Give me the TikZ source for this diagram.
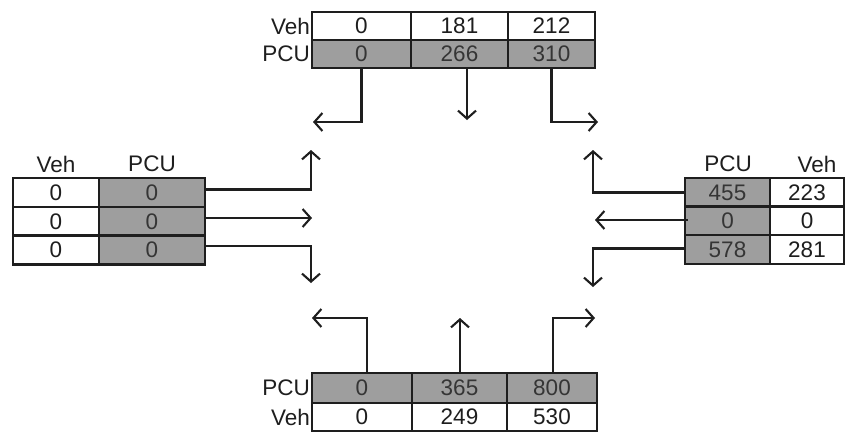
\documentclass[tikz,border=0pt]{standalone}
\usepackage{fontspec}
\setmainfont{Liberation Sans}
\usetikzlibrary{arrows.meta}
\definecolor{cellgray}{RGB}{158,158,158}
\definecolor{ink}{RGB}{30,30,30}
\begin{document}
\begin{tikzpicture}[x=1pt,y=-1pt,
  cell/.style={draw=ink,line width=2.2pt,inner sep=0pt,minimum height=28pt,font=\fontsize{22.5}{22.5}\selectfont,text=ink},
  wcell/.style={cell,fill=white},
  gcell/.style={cell,fill=cellgray,text=ink!90},
  lbl/.style={inner sep=0pt,font=\fontsize{22.5}{22.5}\selectfont,text=ink},
  arr/.style={draw=ink,line width=2.1pt,-{Straight Barb[length=8pt,width=18pt,line width=2.1pt]}}]
\useasboundingbox (0,0) rectangle (846,432);
\fill[white] (0,0) rectangle (846,432);
% ---------- top table
\node[wcell,minimum width=99pt] (tv1) at (361.5,26) {0};
\node[wcell,minimum width=97pt] (tv2) at (459.5,26) {181};
\node[wcell,minimum width=87pt] (tv3) at (551.5,26) {212};
\node[gcell,minimum width=99pt] (tp1) at (361.5,54) {0};
\node[gcell,minimum width=97pt] (tp2) at (459.5,54) {266};
\node[gcell,minimum width=87pt] (tp3) at (551.5,54) {310};
\node[lbl,anchor=east] (tlv) at (310,26) {Veh};
\node[lbl,anchor=east] (tlp) at (310,54) {PCU};
% ---------- left table
\node[lbl] (llv) at (56,164) {Veh};
\node[lbl] (llp) at (152,164) {PCU};
\node[wcell,minimum width=86pt,minimum height=29pt] (lv1) at (56,192.5) {0};
\node[wcell,minimum width=86pt,minimum height=29pt] (lv2) at (56,221.5) {0};
\node[wcell,minimum width=86pt,minimum height=29pt] (lv3) at (56,250) {0};
\node[gcell,minimum width=106pt,minimum height=29pt] (lp1) at (152,192.5) {0};
\node[gcell,minimum width=106pt,minimum height=29pt] (lp2) at (152,221.5) {0};
\node[gcell,minimum width=106pt,minimum height=29pt] (lp3) at (152,250) {0};
% ---------- right table
\node[lbl] (rlp) at (728,164) {PCU};
\node[lbl] (rlv) at (817,164) {Veh};
\node[gcell,minimum width=85pt,minimum height=29pt] (rp1) at (727.5,192.5) {455};
\node[gcell,minimum width=85pt,minimum height=29pt] (rp2) at (727.5,221) {0};
\node[gcell,minimum width=85pt,minimum height=29pt] (rp3) at (727.5,249.5) {578};
\node[wcell,minimum width=74pt,minimum height=29pt] (rv1) at (807,192.5) {223};
\node[wcell,minimum width=74pt,minimum height=29pt] (rv2) at (807,221) {0};
\node[wcell,minimum width=74pt,minimum height=29pt] (rv3) at (807,249.5) {281};
% ---------- bottom table
\node[gcell,minimum width=100pt,minimum height=30pt] (bp1) at (362,388) {0};
\node[gcell,minimum width=95pt,minimum height=30pt] (bp2) at (459.5,388) {365};
\node[gcell,minimum width=90pt,minimum height=30pt] (bp3) at (552,388) {800};
\node[wcell,minimum width=100pt] (bv1) at (362,417) {0};
\node[wcell,minimum width=95pt] (bv2) at (459.5,417) {249};
\node[wcell,minimum width=90pt] (bv3) at (552,417) {530};
\node[lbl,anchor=east] (blp) at (310,388) {PCU};
\node[lbl,anchor=east] (blv) at (310,417) {Veh};
% ---------- arrow end points
\coordinate (ta1) at (313,122);
\coordinate (ta2) at (467,120);
\coordinate (ta3) at (598,122);
\coordinate (la1) at (311,150);
\coordinate (la2) at (312,218);
\coordinate (la3) at (311,283);
\coordinate (ra1) at (593,150);
\coordinate (ra2) at (595,220);
\coordinate (ra3) at (593,287);
\coordinate (ba1) at (312,318);
\coordinate (ba2) at (460,318);
\coordinate (ba3) at (595,318);
% ---------- arrows
\draw[arr] (tp1.south) |- (ta1);
\draw[arr] (tp2.south -| ta2) -- (ta2);
\draw[arr] (tp3.south) |- (ta3);
\draw[arr] ([yshift=3pt]lp1.east) -| (la1);
\draw[arr] (lp2.east |- la2) -- (la2);
\draw[arr] ([yshift=4pt]lp3.east) -| (la3);
\draw[arr] (rp1.west) -| (ra1);
\draw[arr] ([xshift=4pt]rp2.west |- ra2) -- (ra2);
\draw[arr] ([yshift=1pt]rp3.west) -| (ra3);
\draw[arr] ([xshift=5pt]bp1.north) |- (ba1);
\draw[arr] (bp2.north -| ba2) -- (ba2);
\draw[arr] ([xshift=1pt]bp3.north) |- (ba3);
\end{tikzpicture}
\end{document}
